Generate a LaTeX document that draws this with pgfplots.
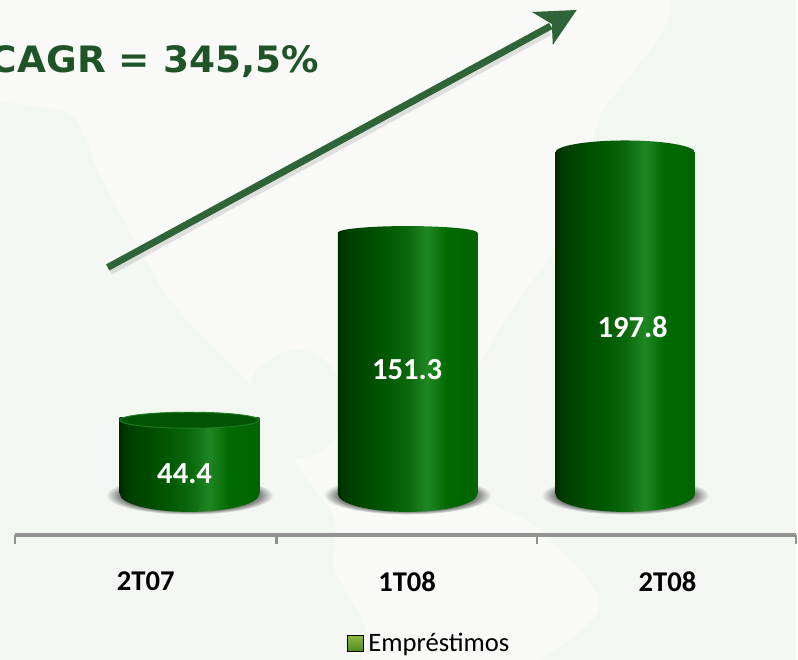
\documentclass[border=0pt]{standalone}
\usepackage{fontspec}
\setmainfont{Carlito}
\newfontfamily\titlefont{DejaVu Sans}
\usepackage{pgfplots}
\pgfplotsset{compat=1.18}
\definecolor{bgcol}{HTML}{F2F7F2}
\definecolor{landcol}{HTML}{F9FAF8}
\definecolor{arrowcol}{HTML}{2E6437}
\definecolor{titlecol}{HTML}{1F5428}
\definecolor{axiscol}{HTML}{929292}
\definecolor{cyla}{HTML}{002A00}
\definecolor{cylb}{HTML}{003D00}
\definecolor{cylc}{HTML}{005800}
\definecolor{cyld}{HTML}{0A680C}
\definecolor{cyle}{HTML}{208624}
\definecolor{cylf}{HTML}{006A00}
\definecolor{cylg}{HTML}{006400}
\definecolor{shadowcol}{HTML}{858585}
\definecolor{facecol}{HTML}{025402}
\definecolor{faceedge}{HTML}{1E7D1E}
\definecolor{icontop}{HTML}{8DBB41}
\definecolor{iconbot}{HTML}{4F8A22}
\pgfdeclarehorizontalshading{cyl}{100bp}{
  color(0bp)=(cyla);
  color(25bp)=(cyla);
  color(28bp)=(cylb);
  color(42bp)=(cylc);
  color(50bp)=(cyld);
  color(57bp)=(cyle);
  color(64bp)=(cylf);
  color(75bp)=(cylg);
  color(100bp)=(cylg)}
\pgfdeclareradialshading{barshadow}{\pgfpoint{0bp}{0bp}}{
  color(0bp)=(shadowcol);
  color(21bp)=(shadowcol);
  color(25bp)=(bgcol);
  color(50bp)=(bgcol)}
% sizes in pt: 1 px of the reference = 0.75pt
\pgfdeclareplotmark{cylbase}{\pgfpathellipse{\pgfpointorigin}{\pgfqpoint{52.5pt}{0pt}}{\pgfqpoint{0pt}{13.5pt}}\pgfshadepath{cyl}{0}\pgfusepath{discard}}
\pgfdeclareplotmark{cylcap}{\pgfpathellipse{\pgfpointorigin}{\pgfqpoint{52.5pt}{0pt}}{\pgfqpoint{0pt}{9pt}}\pgfshadepath{cyl}{0}\pgfusepath{discard}}
\pgfdeclareplotmark{cylcapsmall}{\pgfpathellipse{\pgfpointorigin}{\pgfqpoint{52.5pt}{0pt}}{\pgfqpoint{0pt}{5pt}}\pgfshadepath{cyl}{0}\pgfusepath{discard}}
\pgfdeclareplotmark{cylface}{\pgfpathellipse{\pgfqpoint{0pt}{-2.2pt}}{\pgfqpoint{52.5pt}{0pt}}{\pgfqpoint{0pt}{6pt}}\pgfsetfillcolor{facecol}\pgfsetstrokecolor{faceedge}\pgfsetlinewidth{0.7pt}\pgfusepath{fill,stroke}}
\pgfdeclareplotmark{cylshadow}{\pgfpathellipse{\pgfqpoint{0pt}{-1pt}}{\pgfqpoint{63pt}{0pt}}{\pgfqpoint{0pt}{14.5pt}}\pgfshadepath{barshadow}{0}\pgfusepath{discard}}
\begin{document}
\begin{tikzpicture}
\begin{scope}[x=0.75pt,y=-0.75pt]
  \path[use as bounding box,clip] (0,0) rectangle (798,661);
  \fill[bgcol] (0,0) rectangle (798,661);
  % faint map behind the chart
  \fill[landcol] plot[smooth cycle,tension=0.5] coordinates {
    (-20,-20) (-20,90) (70,115) (100,175) (170,300) (250,385) (300,470)
    (335,520) (335,570) (365,625) (370,680) (500,680) (600,610) (540,530)
    (480,495) (460,420) (500,330) (560,240) (600,120) (640,-20)};
  \fill[bgcol] plot[smooth cycle,tension=0.6] coordinates {
    (255,375) (300,350) (340,380) (335,440) (290,460) (255,430)};

  % arrow
  \draw[black,opacity=.10,line width=7pt,shift={(2,3)}] (108,268) -- (548,28);
  \draw[arrowcol,line width=5.2pt] (108,268) -- (552,26);
  \fill[arrowcol] (578,10) -- (533,12) -- (553,24) -- (554,45) -- cycle;

  \node[anchor=base east,inner sep=0pt,text=titlecol,xscale=1.03,
    font=\titlefont\bfseries\fontsize{27.3pt}{30pt}\selectfont]
    at (320,72.7) {CAGR = 345,5\%};
\end{scope}

\begin{axis}[
    at={(11.25pt,-402pt)}, anchor=south west,
    scale only axis,
    width=587.25pt, height=402pt,
    clip=false,
    clip mode=individual,
    xmin=15, xmax=798,
    ymin=-23.7, ymax=286.1,
    axis x line*=bottom,
    axis y line=none,
    x axis line style={axiscol,line width=2.6pt,-},
    every outer x axis line/.append style={axiscol,line width=2.6pt,-},
    xtick={146,408,669},
    xticklabels={2T07,1T08,2T08},
    minor xtick={15,277,538,798},
    major tick length=0pt,
    minor tick length=7pt,
    tick align=outside,
    minor tick style={axiscol,line width=1.8pt},
    xticklabel style={font=\bfseries\fontsize{21.5pt}{24pt}\selectfont,text=black,yshift=-24.5pt},
    legend style={at={(0.529,-0.203)},anchor=center,draw=none,fill=none,
      font=\fontsize{20pt}{22pt}\selectfont,inner sep=0pt},
    every node near coord/.append style={anchor=center,text=white,
      font=\bfseries\fontsize{23pt}{26pt}\selectfont},
    cylbar/.style={forget plot,ybar,bar width=105pt,bar shift=0pt,draw=none,shading=cyl},
  ]
  \addlegendimage{legend image code/.code={
      \fill[white] (-1.5pt,-7.5pt) rectangle (14pt,7.5pt);
      \fill[top color=icontop,bottom color=iconbot] (0pt,-6pt) rectangle (12.5pt,6pt);
    }}
  \addlegendentry{Empréstimos}
  % shadows under the cylinders
  \addplot[forget plot,only marks,mark=cylshadow] coordinates {(190,0) (408.5,0) (626.5,0)};
  \addplot[forget plot,only marks,mark=cylbase] coordinates {(190,0) (408.5,0) (626.5,0)};
  % one plot for each bar, so that the shading fits each cylinder
  \addplot[cylbar] coordinates {(190,44.4)};
  \addplot[cylbar] coordinates {(408.5,151.3)};
  \addplot[cylbar] coordinates {(626.5,197.8)};
  % top of each cylinder
  \addplot[forget plot,only marks,mark=cylface] coordinates {(190,44.4)};
  \addplot[forget plot,only marks,mark=cylcapsmall] coordinates {(408.5,151.3)};
  \addplot[forget plot,only marks,mark=cylcap] coordinates {(626.5,197.8)};
  % value labels
  \addplot[forget plot,only marks,mark=none,point meta=explicit symbolic,nodes near coords]
    coordinates {(185,12)[44.4] (408,72)[151.3] (634,96.5)[197.8]};
\end{axis}
\end{tikzpicture}
\end{document}
